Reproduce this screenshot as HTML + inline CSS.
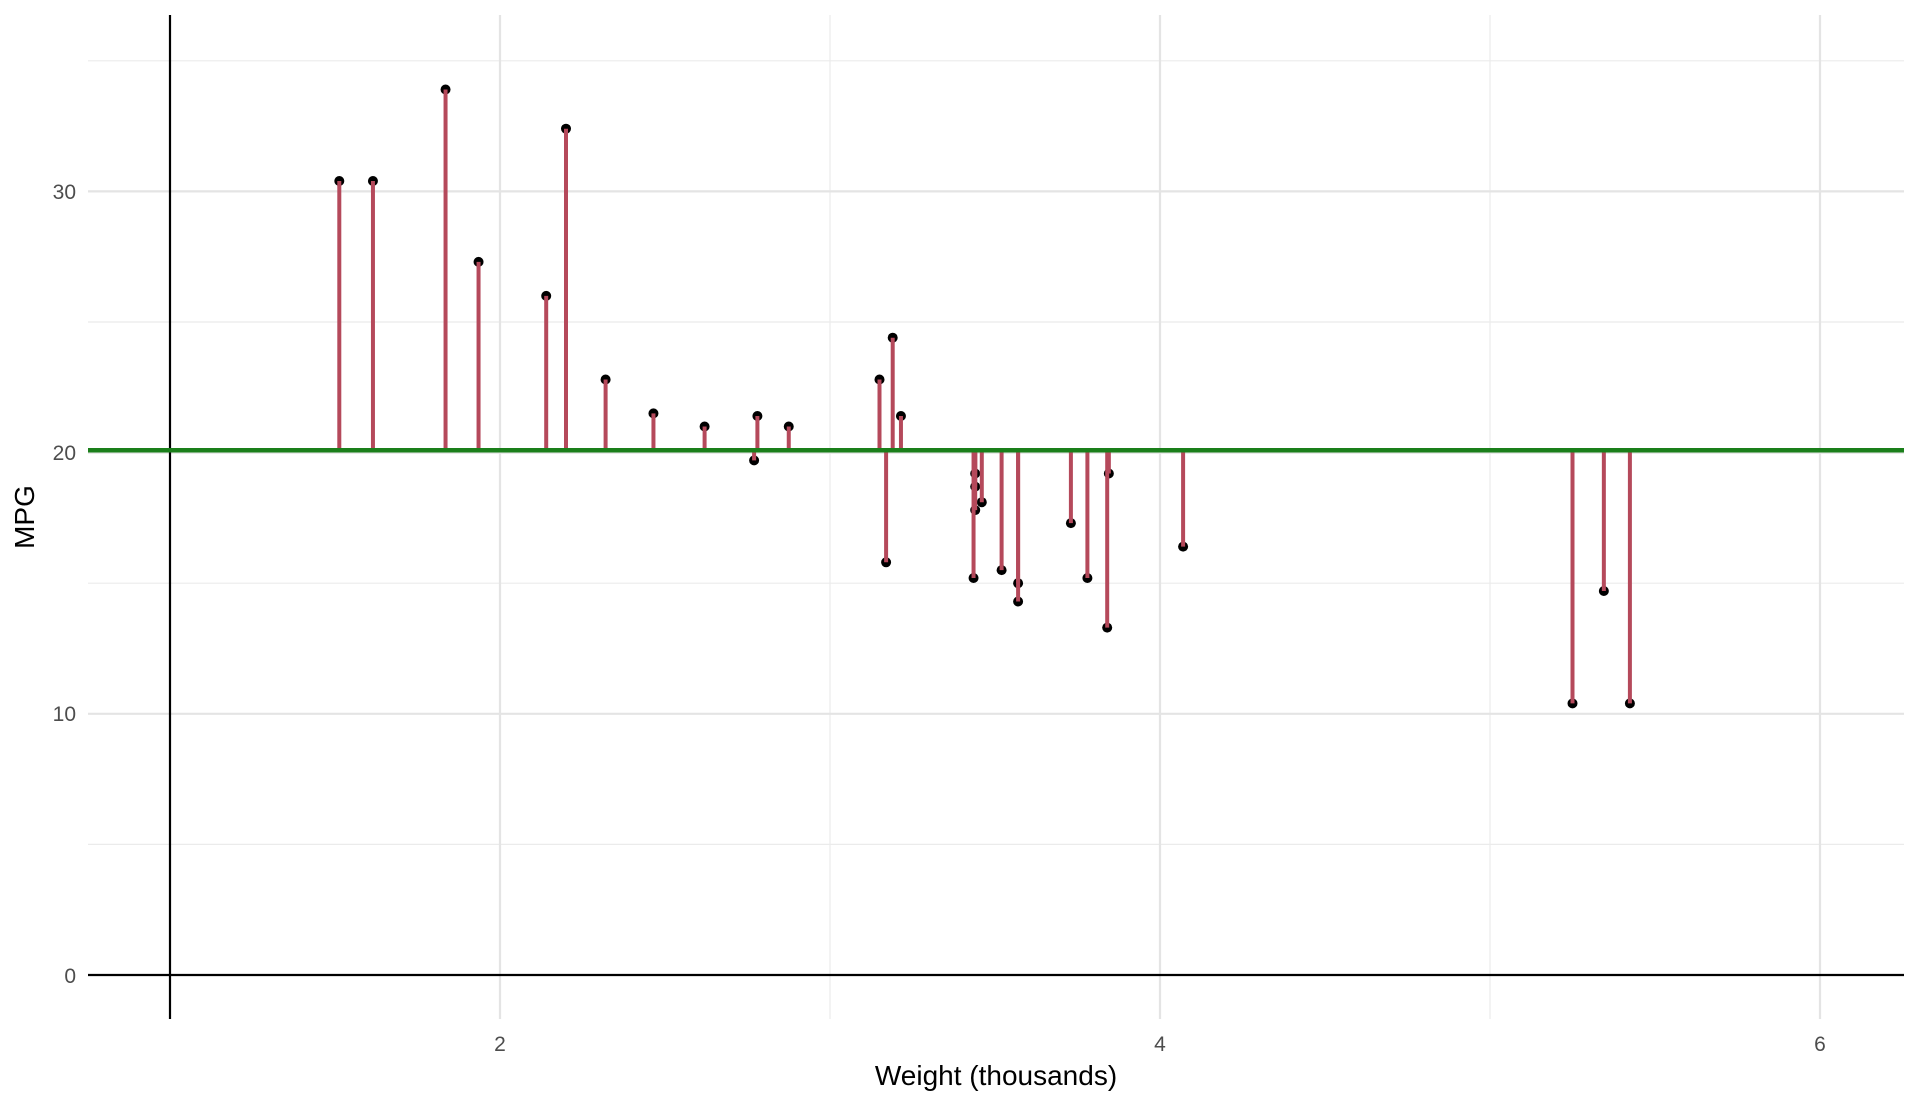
<!DOCTYPE html>
<html><head><meta charset="utf-8"><style>html,body{margin:0;padding:0;background:#fff}svg{display:block}</style></head>
<body>
<svg width="1920" height="1104" viewBox="0 0 1920 1104" xmlns="http://www.w3.org/2000/svg" font-family="Liberation Sans, Arial, sans-serif">
<rect width="1920" height="1104" fill="#fff"/>
<g stroke="#ebebeb" stroke-width="1.2">
<line x1="88" x2="1904" y1="844.4" y2="844.4"/><line x1="88" x2="1904" y1="583.2" y2="583.2"/><line x1="88" x2="1904" y1="322" y2="322"/><line x1="88" x2="1904" y1="60.8" y2="60.8"/>
<line x1="830" x2="830" y1="15" y2="1019"/><line x1="1490" x2="1490" y1="15" y2="1019"/>
</g>
<g stroke="#e4e4e4" stroke-width="2.2">
<line x1="88" x2="1904" y1="713.8" y2="713.8"/><line x1="88" x2="1904" y1="452.6" y2="452.6"/><line x1="88" x2="1904" y1="191.4" y2="191.4"/>
<line x1="500" x2="500" y1="15" y2="1019"/><line x1="1160" x2="1160" y1="15" y2="1019"/><line x1="1820" x2="1820" y1="15" y2="1019"/>
</g>
<g stroke="#000" stroke-width="2.2">
<line x1="88" x2="1904" y1="975" y2="975"/>
<line x1="170" x2="170" y1="15" y2="1019"/>
</g>
<g fill="#000">
<circle cx="704.6" cy="426.5" r="5"/><circle cx="788.75" cy="426.5" r="5"/><circle cx="605.6" cy="379.5" r="5"/><circle cx="900.95" cy="416" r="5"/>
<circle cx="975.2" cy="486.6" r="5"/><circle cx="981.8" cy="502.2" r="5"/><circle cx="1018.1" cy="601.5" r="5"/><circle cx="892.7" cy="337.7" r="5"/>
<circle cx="879.5" cy="379.5" r="5"/><circle cx="975.2" cy="473.5" r="5"/><circle cx="975.2" cy="510.1" r="5"/><circle cx="1183.1" cy="546.6" r="5"/>
<circle cx="1070.9" cy="523.1" r="5"/><circle cx="1087.4" cy="578" r="5"/><circle cx="1572.5" cy="703.4" r="5"/><circle cx="1629.9" cy="703.4" r="5"/>
<circle cx="1603.85" cy="591" r="5"/><circle cx="566" cy="128.7" r="5"/><circle cx="372.95" cy="181" r="5"/><circle cx="445.55" cy="89.5" r="5"/>
<circle cx="653.45" cy="413.4" r="5"/><circle cx="1001.6" cy="570.1" r="5"/><circle cx="973.55" cy="578" r="5"/><circle cx="1107.2" cy="627.6" r="5"/>
<circle cx="1108.85" cy="473.5" r="5"/><circle cx="478.55" cy="261.9" r="5"/><circle cx="546.2" cy="295.9" r="5"/><circle cx="339.3" cy="181" r="5"/>
<circle cx="886.1" cy="562.3" r="5"/><circle cx="754.1" cy="460.4" r="5"/><circle cx="1018.1" cy="583.2" r="5"/><circle cx="757.4" cy="416" r="5"/>
</g>
<g stroke="#b5495b" stroke-width="4">
<line x1="704.6" x2="704.6" y1="450.25" y2="426.5"/><line x1="788.75" x2="788.75" y1="450.25" y2="426.5"/><line x1="605.6" x2="605.6" y1="450.25" y2="379.5"/><line x1="900.95" x2="900.95" y1="450.25" y2="416"/>
<line x1="975.2" x2="975.2" y1="450.25" y2="486.6"/><line x1="981.8" x2="981.8" y1="450.25" y2="502.2"/><line x1="1018.1" x2="1018.1" y1="450.25" y2="601.5"/><line x1="892.7" x2="892.7" y1="450.25" y2="337.7"/>
<line x1="879.5" x2="879.5" y1="450.25" y2="379.5"/><line x1="975.2" x2="975.2" y1="450.25" y2="473.5"/><line x1="975.2" x2="975.2" y1="450.25" y2="510.1"/><line x1="1183.1" x2="1183.1" y1="450.25" y2="546.6"/>
<line x1="1070.9" x2="1070.9" y1="450.25" y2="523.1"/><line x1="1087.4" x2="1087.4" y1="450.25" y2="578"/><line x1="1572.5" x2="1572.5" y1="450.25" y2="703.4"/><line x1="1629.9" x2="1629.9" y1="450.25" y2="703.4"/>
<line x1="1603.85" x2="1603.85" y1="450.25" y2="591"/><line x1="566" x2="566" y1="450.25" y2="128.7"/><line x1="372.95" x2="372.95" y1="450.25" y2="181"/><line x1="445.55" x2="445.55" y1="450.25" y2="89.5"/>
<line x1="653.45" x2="653.45" y1="450.25" y2="413.4"/><line x1="1001.6" x2="1001.6" y1="450.25" y2="570.1"/><line x1="973.55" x2="973.55" y1="450.25" y2="578"/><line x1="1107.2" x2="1107.2" y1="450.25" y2="627.6"/>
<line x1="1108.85" x2="1108.85" y1="450.25" y2="473.5"/><line x1="478.55" x2="478.55" y1="450.25" y2="261.9"/><line x1="546.2" x2="546.2" y1="450.25" y2="295.9"/><line x1="339.3" x2="339.3" y1="450.25" y2="181"/>
<line x1="886.1" x2="886.1" y1="450.25" y2="562.3"/><line x1="754.1" x2="754.1" y1="450.25" y2="460.4"/><line x1="1018.1" x2="1018.1" y1="450.25" y2="583.2"/><line x1="757.4" x2="757.4" y1="450.25" y2="416"/>
</g>
<line x1="88" x2="1904" y1="450.25" y2="450.25" stroke="#1a7f1a" stroke-width="4.5"/>
<g fill="#4d4d4d" font-size="21" text-anchor="end">
<text x="76" y="983">0</text><text x="76" y="721">10</text><text x="76" y="460">20</text><text x="76" y="199">30</text>
</g>
<g fill="#4d4d4d" font-size="21" text-anchor="middle">
<text x="500" y="1051">2</text><text x="1160" y="1051">4</text><text x="1820" y="1051">6</text>
</g>
<text x="996" y="1085" font-size="28" text-anchor="middle" fill="#000">Weight (thousands)</text>
<text transform="translate(34 517) rotate(-90)" font-size="28" text-anchor="middle" fill="#000">MPG</text>
</svg>
</body></html>
